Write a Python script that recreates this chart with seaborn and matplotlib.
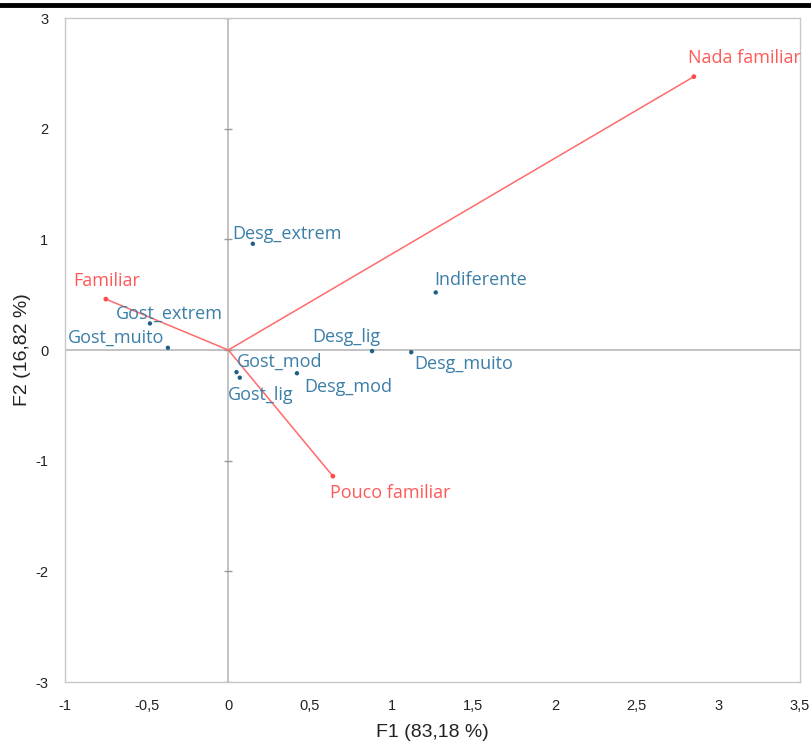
import matplotlib
matplotlib.use("Agg")
import matplotlib.pyplot as plt
from matplotlib.lines import Line2D
import seaborn as sns
import pandas as pd

# Active variable categories (familiarity) - drawn as vectors from the origin
fam_labels = ["Nada familiar", "Familiar", "Pouco familiar"]
fam_f1 = [2.85, -0.75, 0.64]
fam_f2 = [2.47, 0.46, -1.14]

# Supplementary categories (liking)
lik_labels = ["Desg_extrem", "Indiferente", "Gost_extrem", "Gost_muito", "Desg_lig",
              "Desg_muito", "Desg_mod", "Gost_mod", "Gost_lig"]
lik_f1 = [0.15, 1.27, -0.48, -0.37, 0.88, 1.12, 0.42, 0.05, 0.07]
lik_f2 = [0.96, 0.52, 0.24, 0.02, -0.01, -0.02, -0.21, -0.20, -0.25]

x_ticks = [-1, -0.5, 0, 0.5, 1, 1.5, 2, 2.5, 3, 3.5]
x_tick_labels = ["-1", "-0,5", "0", "0,5", "1", "1,5", "2", "2,5", "3", "3,5"]
y_ticks = [-3, -2, -1, 0, 1, 2, 3]
y_tick_labels = ["-3", "-2", "-1", "0", "1", "2", "3"]

# label offsets in pixels (dx, dy) for each category
fam_offsets = {"Nada familiar": (-6, 10), "Familiar": (-33, 9), "Pouco familiar": (-3, -8)}
lik_offsets = {"Desg_extrem": (-21, 1), "Indiferente": (-2, 3),
               "Gost_extrem": (-34, 1), "Gost_muito": (-100, 1),
               "Desg_lig": (-60, 5), "Desg_muito": (3, -3),
               "Desg_mod": (7, -5), "Gost_mod": (0, 1),
               "Gost_lig": (-12, -8)}

RED = "#ff6b6b"
RED_TXT = "#ff5a5a"
BLUE_TXT = "#3b7ea8"
BLUE_PT = "#1f5f86"
GRID = "#b8b8b8"
PX = 0.72  # points per pixel at 100 dpi

sns.set_theme(style="white")
plt.rcParams["font.family"] = ["Liberation Sans", "DejaVu Sans"]

fig = plt.figure(figsize=(8.12, 7.42), dpi=100)
ax = fig.add_axes([65 / 812, 60 / 742, 735 / 812, 664 / 742])

ax.set_xlim(-1, 3.5)
ax.set_ylim(-3, 3)

# origin axes, with small cross ticks on the vertical one
ax.axhline(0, color=GRID, lw=1.2, zorder=1)
ax.axvline(0, color=GRID, lw=1.2, zorder=1)
ax.plot([0] * len(y_ticks), y_ticks, ls="none", marker="_", ms=6, mew=1.0, color="#9a9a9a", zorder=1)

# vectors to familiarity categories
for fx, fy in zip(fam_f1, fam_f2):
    ax.plot([0, fx], [0, fy], color=RED, lw=1.1, zorder=2)

fam_df = pd.DataFrame({"F1": fam_f1, "F2": fam_f2, "label": fam_labels})
lik_df = pd.DataFrame({"F1": lik_f1, "F2": lik_f2, "label": lik_labels})
sns.scatterplot(data=fam_df, x="F1", y="F2", color="#ff4d4d", s=12, edgecolor="none", ax=ax, zorder=3)
sns.scatterplot(data=lik_df, x="F1", y="F2", color=BLUE_PT, s=10, edgecolor="none", ax=ax, zorder=3)

for lab, fx, fy in zip(fam_labels, fam_f1, fam_f2):
    dx, dy = fam_offsets[lab]
    ax.annotate(lab, (fx, fy), xytext=(dx * PX, dy * PX), textcoords="offset points",
                ha="left", va="bottom" if dy > 0 else "top", color=RED_TXT, fontsize=13,
                family=["Open Sans", "DejaVu Sans"], zorder=4, annotation_clip=False)

for lab, lx, ly in zip(lik_labels, lik_f1, lik_f2):
    dx, dy = lik_offsets[lab]
    ax.annotate(lab, (lx, ly), xytext=(dx * PX, dy * PX), textcoords="offset points",
                ha="left", va="bottom" if dy > 0 else "top", color=BLUE_TXT, fontsize=13,
                family=["Open Sans", "DejaVu Sans"], zorder=4)

ax.set_xticks(x_ticks)
ax.set_xticklabels(x_tick_labels)
ax.set_yticks(y_ticks)
ax.set_yticklabels(y_tick_labels)
ax.tick_params(axis="both", length=0, pad=12, labelsize=10.5, colors="#222222")
for t in ax.get_xticklabels() + ax.get_yticklabels():
    t.set_family(["Liberation Sans Narrow", "Liberation Sans", "DejaVu Sans"])

ax.set_xlabel("F1 (83,18 %)", fontsize=14, color="#222222", labelpad=8)
ax.set_ylabel("F2 (16,82 %)", fontsize=14, color="#222222", labelpad=3)

for s in ax.spines.values():
    s.set_color("#c8c8c8")
    s.set_linewidth(1.0)

# heavy rule across the top of the figure
fig.add_artist(Line2D([0, 1], [1 - 4.5 / 742, 1 - 4.5 / 742], transform=fig.transFigure,
                      color="black", lw=3.5))

fig.savefig("out.png", dpi=100)
